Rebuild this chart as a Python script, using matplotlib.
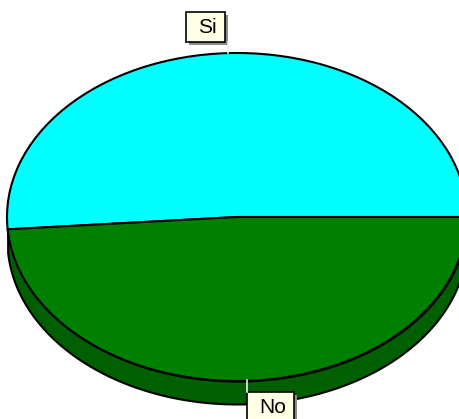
import numpy as np
import matplotlib

matplotlib.use("Agg")
import matplotlib.pyplot as plt
from matplotlib.patches import Rectangle

labels = ["Si", "No"]
values = [51.2, 48.8]
colors = ["#00FFFF", "#008000"]
side_color = "#005F00"

W, H = 460, 419
cx, cy = 237, 217  # pie centre, pixels
rx, ry = 230, 164
depth_px = 23


def px(x, y):
    return x / W, 1 - y / H


plt.rcParams["font.family"] = ["Liberation Sans", "DejaVu Sans"]

fig = plt.figure(figsize=(W / 100, H / 100), dpi=100, facecolor="white")
ax = fig.add_axes([0, 0, 1, 1])

# side of the pie, only shows under the lower slice
split = 2 * np.pi * values[0] / sum(values)
t = np.linspace(split, 2 * np.pi, 120)
ax.fill_between(
    np.cos(t),
    np.sin(t),
    np.sin(t) - depth_px / ry,
    facecolor=side_color,
    edgecolor="black",
    linewidth=1.5,
)

ax.pie(
    values,
    colors=colors,
    startangle=0,
    radius=1,
    wedgeprops={"edgecolor": "black", "linewidth": 1.5},
)
ax.set_aspect("auto")
ax.set_xlim((0 - cx) / rx, (W - cx) / rx)
ax.set_ylim((cy - H) / ry, cy / ry)
ax.axis("off")

# label box x, y, w, h and leader line x, y0, y1
label_boxes = [(186, 12, 39, 30), (247, 392, 47, 34)]
leaders = [(228, 42, 53), (247, 380, 392)]

for text, box, lead in zip(labels, label_boxes, leaders):
    x, y, w, h = box
    fig.add_artist(
        plt.Line2D(
            [lead[0] / W, lead[0] / W],
            [1 - lead[1] / H, 1 - lead[2] / H],
            color="#F0F0F0",
            linewidth=1.2,
        )
    )
    fig.add_artist(
        Rectangle(
            px(x + 3, y + h + 3),
            w / W,
            h / H,
            transform=fig.transFigure,
            facecolor="#8C8C8C",
            edgecolor="none",
        )
    )
    fig.add_artist(
        Rectangle(
            px(x, y + h),
            w / W,
            h / H,
            transform=fig.transFigure,
            facecolor="#FFFFE6",
            edgecolor="black",
            linewidth=1.2,
        )
    )
    tx, ty = px(x + w / 2 + 2, y + 15.5)
    fig.text(tx, ty, text, ha="center", va="center", fontsize=15, color="black")

fig.savefig("out.png", dpi=100)
